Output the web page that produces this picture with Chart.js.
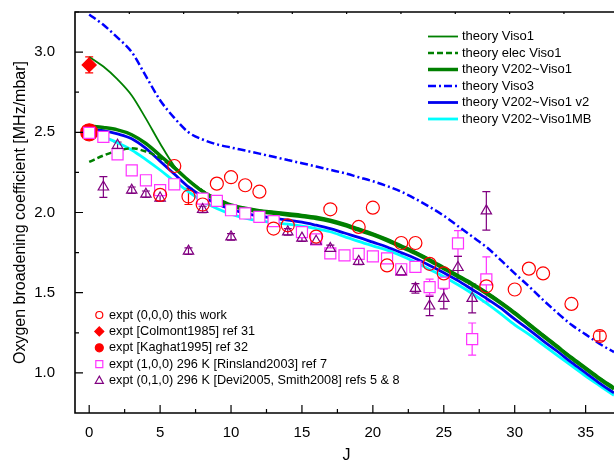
<!DOCTYPE html>
<html>
<head>
<meta charset="utf-8">
<script src="https://cdn.jsdelivr.net/npm/chart.js@4.4.0/dist/chart.umd.min.js"></script>
<style>
html, body { margin: 0; padding: 0; background: #fff; }
</style>
</head>
<body>
<canvas id="BroadeningChart" width="614" height="464"></canvas>
<script>
// J values for the theory curves
const theoryJ = [0, 1, 2, 3, 4, 5, 6, 7, 8, 9, 10, 11, 12, 13, 14, 15, 16, 17, 18, 19,
    20, 21, 22, 23, 24, 25, 26, 27, 28, 29, 30, 31, 32, 33, 34, 35, 36, 37];

const visoOne = [2.97, 2.91, 2.83, 2.73, 2.585, 2.43, 2.29, 2.20, 2.135, 2.09,
    2.052, 2.032, 2.017, 2.007, 1.997, 1.987, 1.975, 1.957, 1.932, 1.902,
    1.872, 1.837, 1.797, 1.757, 1.712, 1.662, 1.612, 1.562, 1.507, 1.447,
    1.382, 1.312, 1.242, 1.172, 1.102, 1.037, 0.972, 0.912];
const elecVisoOne = [2.315, 2.355, 2.385, 2.40, 2.38, 2.34, 2.275, 2.20, 2.136, 2.081,
    2.046, 2.026, 2.011, 2.001, 1.991, 1.981, 1.969, 1.951, 1.926, 1.896,
    1.866, 1.831, 1.791, 1.751, 1.706, 1.656, 1.606, 1.556, 1.501, 1.441,
    1.376, 1.306, 1.236, 1.166, 1.096, 1.031, 0.966, 0.906];
const v202VisoOne = [2.54, 2.53, 2.515, 2.485, 2.43, 2.355, 2.28, 2.20, 2.13, 2.075,
    2.04, 2.02, 2.005, 1.995, 1.985, 1.975, 1.963, 1.945, 1.92, 1.89,
    1.86, 1.825, 1.785, 1.745, 1.70, 1.65, 1.60, 1.55, 1.495, 1.435,
    1.37, 1.30, 1.23, 1.16, 1.09, 1.025, 0.96, 0.90];
const visoThree = [3.235, 3.17, 3.09, 3.00, 2.85, 2.70, 2.59, 2.50, 2.455, 2.425,
    2.405, 2.386, 2.367, 2.347, 2.327, 2.307, 2.287, 2.266, 2.245, 2.22,
    2.195, 2.165, 2.13, 2.085, 2.035, 1.98, 1.915, 1.85, 1.785, 1.705,
    1.62, 1.54, 1.455, 1.375, 1.30, 1.24, 1.18, 1.13];
const v202VisoOneV2 = [2.52, 2.51, 2.49, 2.46, 2.40, 2.32, 2.24, 2.16, 2.10, 2.055,
    2.02, 1.995, 1.978, 1.965, 1.952, 1.94, 1.921, 1.90, 1.872, 1.845,
    1.815, 1.785, 1.75, 1.713, 1.67, 1.625, 1.575, 1.52, 1.465, 1.405,
    1.335, 1.27, 1.20, 1.135, 1.065, 1.00, 0.935, 0.875];
const v202VisoOneMB = [2.49, 2.47, 2.435, 2.39, 2.33, 2.265, 2.195, 2.13, 2.07, 2.025,
    1.99, 1.965, 1.948, 1.937, 1.927, 1.915, 1.90, 1.88, 1.85, 1.82,
    1.792, 1.765, 1.73, 1.69, 1.645, 1.60, 1.55, 1.495, 1.435, 1.37,
    1.30, 1.24, 1.175, 1.11, 1.045, 0.98, 0.92, 0.86];

// measurements
const thisWorkJ = [5, 6, 7, 8, 9, 10, 11, 12, 13, 14, 16, 17, 19, 20, 21, 22, 23, 24, 25, 28, 30, 31, 32, 34, 36];
const thisWorkVal = [2.11, 2.29, 2.10, 2.05, 2.18, 2.22, 2.17, 2.13, 1.90, 1.92, 1.85, 2.02, 1.91, 2.03, 1.67,
    1.81, 1.81, 1.68, 1.62, 1.54, 1.52, 1.65, 1.62, 1.43, 1.23];
const thisWorkErr = [0, 0, 0.05, 0, 0, 0, 0, 0, 0, 0, 0, 0, 0, 0, 0, 0, 0, 0, 0, 0, 0, 0, 0, 0, 0.03];

const colmontJ = [0];
const colmontVal = [2.92];
const colmontErr = [0.05];

const kaghatJ = [0];
const kaghatVal = [2.50];

const rinslandJ = [0, 1, 2, 3, 4, 5, 6, 8, 9, 10, 11, 12, 13, 15, 16, 17, 18, 19, 20, 21, 22, 23, 24, 25, 26, 27, 28];
const rinslandVal = [2.496, 2.471, 2.363, 2.263, 2.201, 2.139, 2.176, 2.087, 2.072, 2.014, 1.994, 1.973, 1.946,
    1.878, 1.832, 1.745, 1.733, 1.742, 1.726, 1.714, 1.646, 1.661, 1.535, 1.562, 1.807, 1.211, 1.583];
const rinslandErr = [0, 0, 0, 0, 0, 0, 0, 0, 0, 0, 0, 0, 0, 0, 0, 0, 0, 0, 0, 0, 0, 0, 0.05, 0.04, 0.08, 0.10, 0.14];

const deviJ = [1, 2, 3, 4, 5, 7, 8, 10, 14, 15, 16, 17, 19, 22, 23, 24, 25, 26, 27, 28];
const deviVal = [2.159, 2.419, 2.139, 2.114, 2.09, 1.759, 2.019, 1.848, 1.879, 1.840, 1.821, 1.776, 1.695,
    1.630, 1.527, 1.417, 1.464, 1.657, 1.464, 2.010];
const deviErr = [0.065, 0.02, 0.02, 0.02, 0.02, 0.02, 0.02, 0.02, 0.02, 0.02, 0.02, 0.02, 0.02,
    0.02, 0.03, 0.06, 0.065, 0.07, 0.09, 0.12];

// axis ticks
const xTickValues = [0, 5, 10, 15, 20, 25, 30, 35];
const yTickValues = [1.0, 1.5, 2.0, 2.5, 3.0];

const FONT = 'Liberation Sans, Arial, sans-serif';

function pairs(xs, ys) {
    return xs.map((x, i) => ({ x: x, y: ys[i] }));
}

function theoryLine(label, values, color, width, dash, order) {
    return {
        label: label,
        data: pairs(theoryJ, values),
        borderColor: color,
        backgroundColor: color,
        borderWidth: width,
        borderDash: dash,
        pointRadius: 0,
        cubicInterpolationMode: 'monotone',
        fill: false,
        order: order,
    };
}

function exptPoints(label, xs, ys, errs, style, radius, color, fillColor, order) {
    return {
        label: label,
        data: pairs(xs, ys),
        errors: errs,
        showLine: false,
        pointStyle: style,
        pointRadius: radius,
        pointBorderWidth: 1.2,
        pointBorderColor: color,
        pointBackgroundColor: fillColor,
        borderColor: color,
        backgroundColor: fillColor,
        order: order,
    };
}

const theorySets = [
    theoryLine('theory Viso1', visoOne, '#008000', 1.8, [], 12),
    theoryLine('theory elec Viso1', elecVisoOne, '#008000', 2.5, [6, 3], 13),
    theoryLine('theory V202~Viso1', v202VisoOne, '#008000', 3.5, [], 14),
    theoryLine('theory Viso3', visoThree, '#0000ff', 2.5, [8, 3, 2, 3], 11),
    theoryLine('theory V202~Viso1 v2', v202VisoOneV2, '#0000ee', 2.8, [], 15),
    theoryLine('theory V202~Viso1MB', v202VisoOneMB, '#00ffff', 2.8, [], 16),
];

const exptSets = [
    exptPoints('expt (0,0,0) this work', thisWorkJ, thisWorkVal, thisWorkErr, 'circle', 6.5, '#ff0000', 'rgba(0,0,0,0)', 1),
    exptPoints('expt [Colmont1985] ref 31', colmontJ, colmontVal, colmontErr, 'rectRot', 7, '#ff0000', '#ff0000', 2),
    exptPoints('expt [Kaghat1995] ref 32', kaghatJ, kaghatVal, null, 'circle', 8.5, '#ff0000', '#ff0000', 5),
    exptPoints('expt (1,0,0) 296 K [Rinsland2003] ref 7', rinslandJ, rinslandVal, rinslandErr, 'rect', 7.8, '#ff33ff', '#ffffff', 4),
    exptPoints('expt (0,1,0) 296 K [Devi2005, Smith2008] refs 5 & 8', deviJ, deviVal, deviErr, 'triangle', 6, '#800080', 'rgba(0,0,0,0)', 3),
];

function drawMarker(ctx, style, x, y, r, color, filled) {
    ctx.save();
    ctx.strokeStyle = color;
    ctx.fillStyle = color;
    ctx.lineWidth = 1.2;
    ctx.beginPath();
    if (style === 'circle') {
        ctx.arc(x, y, r, 0, Math.PI * 2);
    } else if (style === 'rectRot') {
        ctx.moveTo(x, y - r);
        ctx.lineTo(x + r, y);
        ctx.lineTo(x, y + r);
        ctx.lineTo(x - r, y);
        ctx.closePath();
    } else if (style === 'rect') {
        ctx.rect(x - r, y - r, 2 * r, 2 * r);
    } else if (style === 'triangle') {
        ctx.moveTo(x, y - r);
        ctx.lineTo(x + r * 0.9, y + r * 0.6);
        ctx.lineTo(x - r * 0.9, y + r * 0.6);
        ctx.closePath();
    }
    if (filled) ctx.fill();
    ctx.stroke();
    ctx.restore();
}

// no extra room around the scales: the plot box is fixed by padding + afterFit
function noScalePadding(s) {
    s.paddingLeft = 0;
    s.paddingRight = 0;
    s.paddingTop = 0;
    s.paddingBottom = 0;
}

const extrasPlugin = {
    id: 'extras',
    beforeDatasetsDraw(chart) {
        const ctx = chart.ctx;
        const xs = chart.scales.x, ys = chart.scales.y;
        ctx.save();
        chart.data.datasets.forEach(ds => {
            if (!ds.errors) return;
            ctx.strokeStyle = ds.borderColor;
            ctx.lineWidth = 1.2;
            ds.data.forEach((p, i) => {
                const e = ds.errors[i];
                if (!e) return;
                const px = xs.getPixelForValue(p.x);
                const top = ys.getPixelForValue(p.y + e);
                const bot = ys.getPixelForValue(p.y - e);
                ctx.beginPath();
                ctx.moveTo(px, top); ctx.lineTo(px, bot);
                ctx.moveTo(px - 4, top); ctx.lineTo(px + 4, top);
                ctx.moveTo(px - 4, bot); ctx.lineTo(px + 4, bot);
                ctx.stroke();
            });
        });
        ctx.restore();
    },
    afterDraw(chart) {
        const ctx = chart.ctx;
        const area = chart.chartArea;
        const xs = chart.scales.x, ys = chart.scales.y;
        ctx.save();

        // frame: left, bottom, top
        ctx.strokeStyle = '#000';
        ctx.lineWidth = 1.6;
        ctx.beginPath();
        ctx.moveTo(area.right, area.top);
        ctx.lineTo(area.left, area.top);
        ctx.lineTo(area.left, area.bottom);
        ctx.lineTo(area.right, area.bottom);
        ctx.stroke();

        // inward ticks
        ctx.lineWidth = 1.2;
        ctx.beginPath();
        for (let v = 0; v <= 37; v += 2.5) {
            const px = xs.getPixelForValue(v);
            const len = v % 5 === 0 ? 8 : 4;
            ctx.moveTo(px, area.bottom); ctx.lineTo(px, area.bottom - len);
        }
        for (let v = 1.0; v <= 3.25; v += 0.25) {
            const py = ys.getPixelForValue(v);
            const len = Math.abs(v * 2 - Math.round(v * 2)) < 1e-6 ? 8 : 4;
            ctx.moveTo(area.left, py); ctx.lineTo(area.left + len, py);
        }
        for (let k = 1; k <= 9; k++) {
            const px = xs.getPixelForValue(-1 + k * 3.83);
            ctx.moveTo(px, area.top); ctx.lineTo(px, area.top + 2);
        }
        ctx.stroke();

        // axis titles
        ctx.fillStyle = '#000';
        ctx.font = '16px ' + FONT;
        ctx.textAlign = 'center';
        ctx.textBaseline = 'middle';
        ctx.fillText('J', (area.left + area.right) / 2 + 2, 456);
        ctx.save();
        ctx.translate(20.5, (area.top + area.bottom) / 2);
        ctx.rotate(-Math.PI / 2);
        ctx.fillText('Oxygen broadening coefficient [MHz/mbar]', 0, 0);
        ctx.restore();

        // theory legend (top right)
        ctx.textAlign = 'left';
        ctx.font = '13px ' + FONT;
        theorySets.forEach((ds, i) => {
            const y = 36.5 + i * 16.5;
            ctx.save();
            ctx.strokeStyle = ds.borderColor;
            ctx.lineWidth = ds.borderWidth;
            ctx.setLineDash(ds.borderDash);
            ctx.beginPath();
            ctx.moveTo(428, y); ctx.lineTo(458, y);
            ctx.stroke();
            ctx.restore();
            ctx.fillText(ds.label, 462, y);
        });

        // experiment legend (bottom left)
        ctx.font = '12.7px ' + FONT;
        const legendStyles = [
            ['circle', 3.5, false],
            ['rectRot', 4.5, true],
            ['circle', 4, true],
            ['rect', 3.5, false],
            ['triangle', 4.5, false],
        ];
        exptSets.forEach((ds, i) => {
            const y = 315 + i * 16.4;
            const st = legendStyles[i];
            drawMarker(ctx, st[0], 99.3, y, st[1], ds.pointBorderColor, st[2]);
            ctx.fillStyle = '#000';
            ctx.fillText(ds.label, 109, y);
        });
        ctx.restore();
    }
};

const config = {
    type: 'line',
    data: { datasets: exptSets.concat(theorySets) },
    options: {
        responsive: false,
        animation: false,
        events: [],
        devicePixelRatio: 1,
        layout: { autoPadding: false, padding: { top: 12, right: 0, left: 0, bottom: 0 } },
        plugins: {
            legend: { display: false },
            tooltip: { enabled: false },
        },
        scales: {
            x: {
                type: 'linear',
                min: -1,
                max: 37,
                grid: { display: false, drawTicks: false },
                border: { display: false },
                afterBuildTicks: s => { s.ticks = xTickValues.map(v => ({ value: v })); },
                afterFit: s => { s.height = 51; noScalePadding(s); },
                ticks: {
                    autoSkip: false,
                    maxRotation: 0,
                    padding: 11,
                    color: '#000',
                    font: { family: FONT, size: 15 },
                },
            },
            y: {
                type: 'linear',
                min: 0.75,
                max: 3.25,
                grid: { display: false, drawTicks: false },
                border: { display: false },
                afterBuildTicks: s => { s.ticks = yTickValues.map(v => ({ value: v })); },
                afterFit: s => { s.width = 75; noScalePadding(s); },
                ticks: {
                    padding: 20,
                    color: '#000',
                    font: { family: FONT, size: 15 },
                    callback: v => v.toFixed(1),
                },
            },
        },
    },
    plugins: [extrasPlugin],
};

const broadeningChart = new Chart(document.getElementById('BroadeningChart'), config);
</script>
</body>
</html>
